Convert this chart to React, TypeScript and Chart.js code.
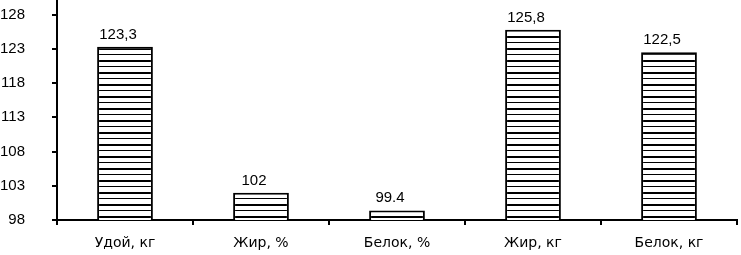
import React, { useEffect, useRef } from "react";
import { Chart, registerables } from "chart.js";

Chart.register(...registerables);

const categories = ["Удой, кг", "Жир, %", "Белок, %", "Жир, кг", "Белок, кг"];
const values = [123.3, 102, 99.4, 125.8, 122.5];
const valueLabels = ["123,3", "102", "99.4", "125,8", "122,5"];
const yTicks = [98, 103, 108, 113, 118, 123, 128];
const yMin = 98;
const yMax = 130;

const NUM_FONT = "'Liberation Sans', Arial, sans-serif";
const CAT_FONT = "'DejaVu Sans', Verdana, sans-serif";
const LABEL_SHIFT_X = -7;

function makePattern(): CanvasPattern | string {
  const c = document.createElement("canvas");
  c.width = 8;
  c.height = 12;
  const ctx = c.getContext("2d");
  if (!ctx) return "#fff";
  ctx.fillStyle = "#ffffff";
  ctx.fillRect(0, 0, 8, 12);
  ctx.fillStyle = "#000000";
  ctx.fillRect(0, 0, 8, 2);
  ctx.fillRect(0, 6, 8, 1);
  return ctx.createPattern(c, "repeat") || "#fff";
}

const valueLabelPlugin = {
  id: "valueLabels",
  afterDatasetsDraw(chart: any) {
    const ctx = chart.ctx;
    const meta = chart.getDatasetMeta(0);
    ctx.save();
    ctx.fillStyle = "#000";
    ctx.font = `15px ${NUM_FONT}`;
    ctx.textAlign = "center";
    ctx.textBaseline = "alphabetic";
    meta.data.forEach((bar: any, i: number) => {
      ctx.fillText(valueLabels[i], bar.x + LABEL_SHIFT_X, bar.y - 8);
    });
    ctx.restore();
  },
};

export default function App() {
  const ref = useRef<HTMLCanvasElement>(null);
  useEffect(() => {
    if (!ref.current) return;
    const chart = new Chart(ref.current, {
      type: "bar",
      data: {
        labels: categories,
        datasets: [
          {
            data: values,
            backgroundColor: makePattern() as any,
            borderColor: "#000",
            borderWidth: 2,
            barPercentage: 0.41,
            categoryPercentage: 1,
          },
        ],
      },
      options: {
        responsive: false,
        animation: false,
        devicePixelRatio: 1,
        layout: { padding: { top: 1, right: 4, left: 0, bottom: 0 } },
        plugins: {
          legend: { display: false },
          tooltip: { enabled: false },
        },
        scales: {
          x: {
            grid: {
              display: true,
              offset: true,
              drawOnChartArea: false,
              drawTicks: true,
              tickLength: 5,
              color: "#000",
              lineWidth: 2,
            },
            border: { display: true, color: "#000", width: 2 },
            ticks: {
              color: "#000",
              font: { family: CAT_FONT, size: 14 },
              padding: 10,
              maxRotation: 0,
            },
            afterFit(scale: any) {
              scale.height = 35;
              scale.paddingLeft = 0;
              scale.paddingRight = 0;
            },
          },
          y: {
            min: yMin,
            max: yMax,
            afterBuildTicks(scale: any) {
              scale.ticks = yTicks.map((v) => ({ value: v }));
            },
            grid: {
              display: true,
              drawOnChartArea: false,
              drawTicks: true,
              tickLength: 5,
              color: "#000",
              lineWidth: 2,
            },
            border: { display: true, color: "#000", width: 2 },
            ticks: {
              color: "#000",
              font: { family: NUM_FONT, size: 15 },
              padding: 27,
            },
            afterFit(scale: any) {
              scale.width = 57;
              scale.paddingTop = 0;
              scale.paddingBottom = 0;
            },
          },
        },
      },
      plugins: [valueLabelPlugin],
    });
    return () => chart.destroy();
  }, []);
  return (
    <div style={{ position: "fixed", left: 0, top: 0, width: 741, height: 255, background: "#fff" }}>
      <canvas ref={ref} width={741} height={255} style={{ display: "block" }} />
    </div>
  );
}
